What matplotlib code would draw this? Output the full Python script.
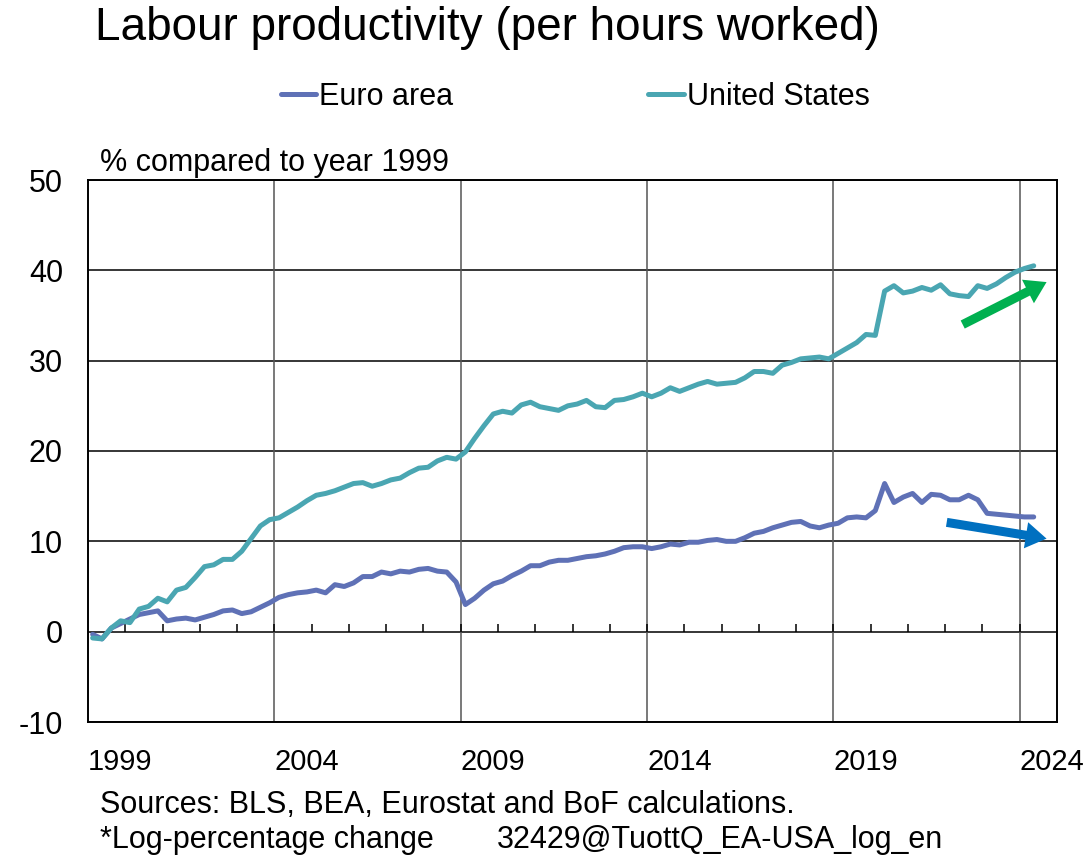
import matplotlib
matplotlib.use("Agg")
import matplotlib.pyplot as plt
import numpy as np

plt.rcParams['font.family'] = ['Liberation Sans', 'DejaVu Sans']

# Quarterly data 1999Q1 .. 2024Q2 (log-% change vs 1999)
start_year = 1999
euro_area = [-0.3, -0.8, 0.4, 0.9, 1.4, 1.9, 2.1, 2.3, 1.2, 1.4,
             1.5, 1.3, 1.6, 1.9, 2.3, 2.4, 2.0, 2.2, 2.7, 3.2,
             3.8, 4.1, 4.3, 4.4, 4.6, 4.3, 5.2, 5.0, 5.4, 6.1,
             6.1, 6.6, 6.4, 6.7, 6.6, 6.9, 7.0, 6.7, 6.6, 5.5,
             3.0, 3.7, 4.6, 5.3, 5.6, 6.2, 6.7, 7.3, 7.3, 7.7,
             7.9, 7.9, 8.1, 8.3, 8.4, 8.6, 8.9, 9.3, 9.4, 9.4,
             9.2, 9.4, 9.7, 9.6, 9.9, 9.9, 10.1, 10.2, 10.0, 10.0,
             10.4, 10.9, 11.1, 11.5, 11.8, 12.1, 12.2, 11.7, 11.5, 11.8,
             12.0, 12.6, 12.7, 12.6, 13.4, 16.4, 14.3, 14.9, 15.3, 14.3,
             15.2, 15.1, 14.6, 14.6, 15.1, 14.6, 13.1, 13.0, 12.9, 12.8,
             12.7, 12.7]
united_states = [-0.7, -0.8, 0.4, 1.2, 1.0, 2.5, 2.8, 3.7, 3.3, 4.6,
                 4.9, 6.0, 7.2, 7.4, 8.0, 8.0, 8.9, 10.3, 11.7, 12.4,
                 12.6, 13.2, 13.8, 14.5, 15.1, 15.3, 15.6, 16.0, 16.4, 16.5,
                 16.1, 16.4, 16.8, 17.0, 17.6, 18.1, 18.2, 18.9, 19.3, 19.1,
                 19.9, 21.4, 22.8, 24.1, 24.4, 24.2, 25.1, 25.4, 24.9, 24.7,
                 24.5, 25.0, 25.2, 25.6, 24.9, 24.8, 25.6, 25.7, 26.0, 26.4,
                 26.0, 26.4, 27.0, 26.6, 27.0, 27.4, 27.7, 27.4, 27.5, 27.6,
                 28.1, 28.8, 28.8, 28.6, 29.5, 29.8, 30.2, 30.3, 30.4, 30.2,
                 30.8, 31.4, 32.0, 32.9, 32.8, 37.7, 38.3, 37.5, 37.7, 38.1,
                 37.8, 38.4, 37.4, 37.2, 37.1, 38.3, 38.0, 38.5, 39.2, 39.8,
                 40.2, 40.5]
series_labels = ["Euro area", "United States"]
x_tick_years = [1999, 2004, 2009, 2014, 2019, 2024]
y_ticks = [-10, 0, 10, 20, 30, 40, 50]

# trend arrows (data coords): (x_tail, y_tail, x_head, y_head)
us_arrow = (2022.47, 34.0, 2024.72, 38.7)
ea_arrow = (2022.04, 12.1, 2024.72, 10.3)

c_ea = "#5F71B6"
c_us = "#4AA6B2"

n = len(euro_area)
x = start_year + 0.125 + 0.25 * np.arange(n)

fig = plt.figure(figsize=(10.86, 8.58), dpi=100)
ax = fig.add_axes([88/1086, 1 - 722/858, (1057-88)/1086, (722-180)/858])

ax.set_xlim(1999, 2025)
ax.set_ylim(-10, 50)

# gridlines
for yv in y_ticks:
    ax.axhline(yv, color="black", lw=1.1, zorder=1)
for xv in x_tick_years[1:]:
    ax.axvline(xv, color="#555555", lw=1.1, zorder=1)
# yearly ticks on zero line
years = np.arange(2000, 2025)
ax.vlines(years, 0, 0.8, color="black", lw=1.1, zorder=1)

l1, = ax.plot(x, euro_area, color=c_ea, lw=3.6, solid_capstyle="round", zorder=3)
l2, = ax.plot(x, united_states, color=c_us, lw=3.6, solid_capstyle="round", zorder=3)

for (x0, y0, x1, y1), col in [(us_arrow, "#00B050"), (ea_arrow, "#0070C0")]:
    ax.annotate("", xy=(x1, y1), xytext=(x0, y0),
                arrowprops=dict(arrowstyle="simple,head_length=1.5,head_width=1.9,tail_width=0.65",
                                mutation_scale=10, color=col, lw=0, shrinkA=0, shrinkB=0),
                zorder=4)

for s in ax.spines.values():
    s.set_color("black")
    s.set_linewidth(1.4)

ax.set_yticks(y_ticks)
ax.set_yticklabels([str(v) for v in y_ticks], fontsize=22)
ax.tick_params(axis="y", length=0, pad=18)
ax.set_xticks([])
for yr in x_tick_years:
    ax.text(yr, -14.4, str(yr), fontsize=21, ha="left", va="center")

fig.text(100/1086, 1 - 163/858, "% compared to year 1999", fontsize=22, ha="left", va="center")

fig.text(95/1086, 1 - 28/858, "Labour productivity (per hours worked)",
         fontsize=33, ha="left", va="center")

leg = fig.legend([l1, l2], series_labels, loc="center", bbox_to_anchor=(575/1086, 1 - 97/858),
                 ncol=2, frameon=False, fontsize=22, handlelength=1.15, handletextpad=0.1,
                 columnspacing=6.4)

fig.text(100/1086, 1 - 805/858, "Sources: BLS, BEA, Eurostat and BoF calculations.",
         fontsize=22, ha="left", va="center")
fig.text(100/1086, 1 - 840/858, "*Log-percentage change", fontsize=22, ha="left", va="center")
fig.text(497/1086, 1 - 840/858, "32429@TuottQ_EA-USA_log_en", fontsize=22, ha="left", va="center")

fig.savefig("out.png", dpi=100)
